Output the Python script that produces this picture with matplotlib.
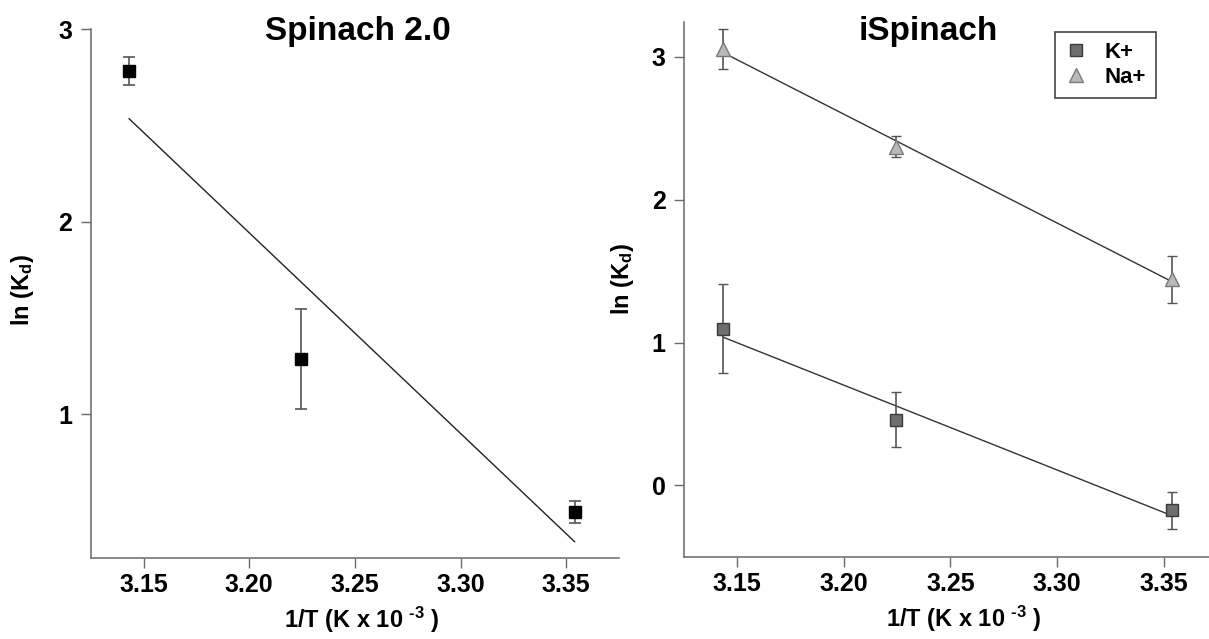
import numpy as np
import matplotlib
matplotlib.use("Agg")
import matplotlib.pyplot as plt
from matplotlib.lines import Line2D

# ---------------- data ----------------
inv_T = [3.1432, 3.2243, 3.3540]          # 1/T (K x 10^-3)

spinach_lnkd = [2.783, 1.287, 0.493]
spinach_err = [0.074, 0.262, 0.056]

k_lnkd = [1.098, 0.461, -0.176]
k_err = [0.313, 0.19, 0.128]

na_lnkd = [3.058, 2.372, 1.442]
na_err = [0.141, 0.075, 0.163]

left_yticks = [1, 2, 3]
right_yticks = [0, 1, 2, 3]
xticks = [3.15, 3.20, 3.25, 3.30, 3.35]
xtick_labels = ["3.15", "3.20", "3.25", "3.30", "3.35"]

titles = ["Spinach 2.0", "iSpinach"]
legend_labels = ["K+", "Na+"]

plt.rcParams['font.family'] = ['Liberation Sans', 'DejaVu Sans']
plt.rcParams['font.weight'] = 'bold'
plt.rcParams['mathtext.fontset'] = 'custom'
plt.rcParams['mathtext.rm'] = 'Liberation Sans:bold'
plt.rcParams['mathtext.bf'] = 'Liberation Sans:bold'
plt.rcParams['mathtext.it'] = 'Liberation Sans:bold'

W, H = 1209, 639
fig = plt.figure(figsize=(W / 100, H / 100), dpi=100)

def px_rect(x0, y0, x1, y1):
    return [x0 / W, 1 - y1 / H, (x1 - x0) / W, (y1 - y0) / H]

ax1 = fig.add_axes(px_rect(90.7, 29.3, 619, 558.3))
ax2 = fig.add_axes(px_rect(683.9, 22, 1217, 557.3))

spine_col = '#6a6a6a'
err_col = '#555555'

for ax in (ax1, ax2):
    for s in ('top', 'right'):
        ax.spines[s].set_visible(False)
    for s in ('left', 'bottom'):
        ax.spines[s].set_color(spine_col)
        ax.spines[s].set_linewidth(1.1)
    ax.tick_params(axis='both', direction='out', length=7.2, width=1.0,
                   color=spine_col, labelsize=18)
    ax.tick_params(axis='y', pad=6)
    ax.tick_params(axis='x', pad=3.5)
    ax.set_xlim(3.125, 3.375)
    ax.set_xticks(xticks)
    ax.set_xticklabels(xtick_labels)
    for lab in ax.get_xticklabels() + ax.get_yticklabels():
        lab.set_fontweight('bold')

def fit_line(ax, x, y, color='#333333'):
    p = np.polyfit(x, y, 1)
    xs = np.array([min(x), max(x)])
    ax.plot(xs, np.polyval(p, xs), color=color, lw=1.0, zorder=2)

# Left panel
fit_line(ax1, inv_T, spinach_lnkd, color='#222222')
ax1.errorbar(inv_T, spinach_lnkd, yerr=spinach_err, fmt='s', ms=8,
             mfc='black', mec='black', ecolor=err_col, elinewidth=1.2,
             capsize=4, capthick=1.2, zorder=3)
ax1.set_ylim(0.252, 3.0)
ax1.set_yticks(left_yticks)

# Right panel
fit_line(ax2, inv_T, na_lnkd)
fit_line(ax2, inv_T, k_lnkd)
ax2.errorbar(inv_T, na_lnkd, yerr=na_err, fmt='^', ms=10,
             mfc='#b8b8b8', mec='#7a7a7a', mew=1.0, ecolor=err_col,
             elinewidth=1.2, capsize=3.5, capthick=1.2, zorder=3)
ax2.errorbar(inv_T, k_lnkd, yerr=k_err, fmt='s', ms=8,
             mfc='#6e6e6e', mec='#3a3a3a', mew=1.0, ecolor=err_col,
             elinewidth=1.2, capsize=3.5, capthick=1.2, zorder=3)
ax2.set_ylim(-0.504, 3.245)
ax2.set_yticks(right_yticks)

handles = [Line2D([], [], ls='none', marker='s', ms=8, mfc='#6e6e6e', mec='#3a3a3a'),
           Line2D([], [], ls='none', marker='^', ms=10, mfc='#b8b8b8', mec='#7a7a7a')]
leg = ax2.legend(handles, legend_labels, loc='upper left',
                 bbox_to_anchor=(1055 / W, 1 - 31.7 / H), bbox_transform=fig.transFigure,
                 borderaxespad=0, fancybox=False, framealpha=1, edgecolor='#444444',
                 prop={'size': 16, 'weight': 'bold'}, handlelength=1.0,
                 handletextpad=0.8, labelspacing=0.2, borderpad=0.45)
leg.get_frame().set_linewidth(1.2)

# Titles
fig.text(358 / W, 1 - 40 / H, titles[0], ha='center', va='baseline', fontsize=24, fontweight='bold')
fig.text(928 / W, 1 - 40 / H, titles[1], ha='center', va='baseline', fontsize=24, fontweight='bold')

# Axis labels
xlab = r'1/T (K x 10 $^{\text{-3}}$ )'
fig.text(362 / W, 1 - 628 / H, xlab, ha='center', va='baseline', fontsize=17, fontweight='bold')
fig.text(964 / W, 1 - 627 / H, xlab, ha='center', va='baseline', fontsize=17, fontweight='bold')
ylab = r'ln (K$_{\text{d}}$)'
fig.text(23 / W, 1 - 290 / H, ylab, ha='center', va='center', rotation=90, fontsize=17, fontweight='bold')
fig.text(622 / W, 1 - 279 / H, ylab, ha='center', va='center', rotation=90, fontsize=17, fontweight='bold')

fig.savefig('out.png', dpi=100)
